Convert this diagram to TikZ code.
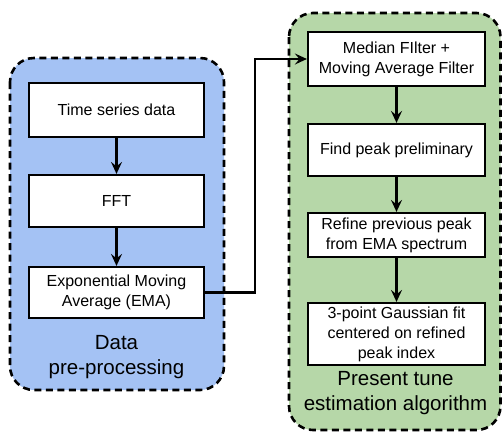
\documentclass[tikz,border=0pt]{standalone}
\usepackage{fontspec}
\setmainfont{Liberation Sans}
\usetikzlibrary{arrows.meta}
\definecolor{blueback}{HTML}{A4C2F4}
\definecolor{greenback}{HTML}{B6D7A8}
\tikzset{
  stepbox/.style={draw=black, line width=2.2pt, fill=white, minimum width=175pt, align=center, inner sep=2pt,
    font=\fontsize{16}{20}\selectfont},
  group/.style={draw=black, line width=2.6pt, dash pattern=on 7pt off 4.5pt, rounded corners=24pt},
  grouplabel/.style={align=center, font=\fontsize{20.5}{25}\selectfont},
  flow/.style={line width=2.2pt, -{Stealth[length=12pt,width=11pt,inset=4.5pt]}}
}
\begin{document}
\begin{tikzpicture}[x=1pt,y=-1pt]
\useasboundingbox (0,0) rectangle (502,432);
\draw[group, fill=blueback] (10,58) rectangle (224,390);
\draw[group, fill=greenback] (289,13) rectangle (500.5,430);
\node[stepbox, minimum height=54pt] (ts) at (116.5,110) {Time series data};
\node[stepbox, minimum height=52pt] (fft) at (116.5,201) {FFT};
\node[stepbox, minimum height=51pt] (ema) at (116.5,292.5) {Exponential Moving\\Average (EMA)};
\node[grouplabel] (lab1) at (116.5,357) {Data\\pre-processing};
\node[stepbox, minimum width=177pt, minimum height=54pt] (mf) at (396.5,59) {Median FIlter +\\Moving Average Filter};
\node[stepbox, minimum width=177pt, minimum height=52pt] (fp) at (396.5,150) {Find peak preliminary};
\node[stepbox, minimum width=177pt, minimum height=44pt] (rp) at (396.5,235) {Refine previous peak\\from EMA spectrum};
\node[stepbox, minimum width=177pt, minimum height=62pt] (gf) at (396.5,334) {3-point Gaussian fit\\centered on refined\\peak index};
\node[grouplabel] (lab2) at (395.5,393) {Present tune\\estimation algorithm};
\coordinate (bend) at (255,175);
\draw[flow] (ts) -- (fft);
\draw[flow] (fft) -- (ema);
\draw[flow] (mf) -- (fp);
\draw[flow] (fp) -- (rp);
\draw[flow] (rp) -- (gf);
\draw[flow] (ema.east) -| (bend) |- (mf.west);
\end{tikzpicture}
\end{document}
